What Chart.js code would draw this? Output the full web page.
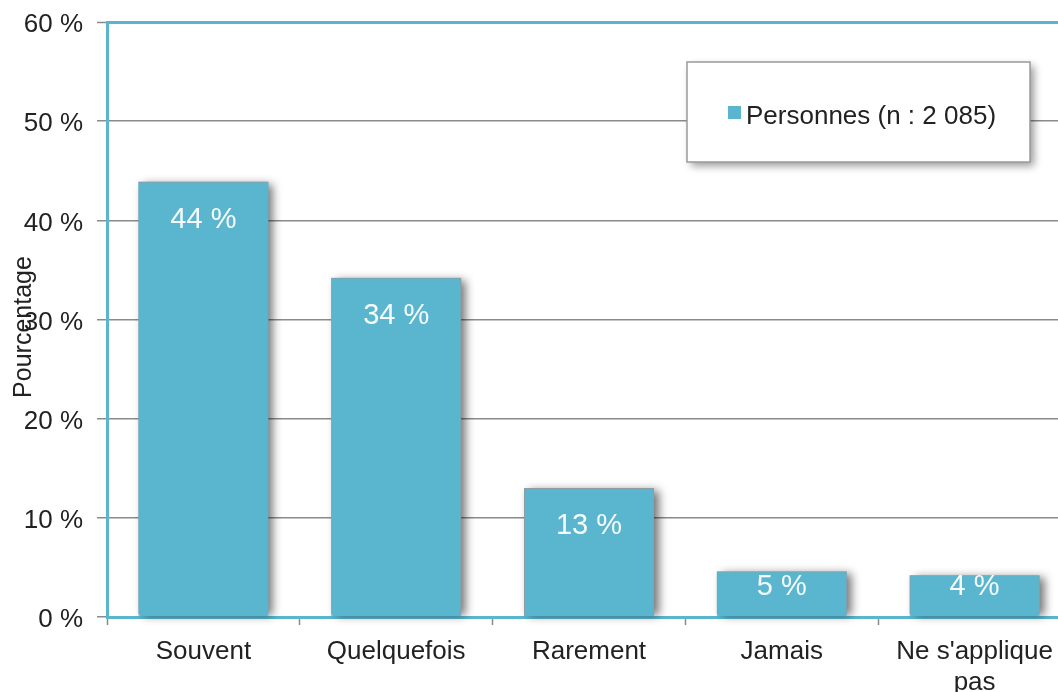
<!DOCTYPE html>
<html>
<head>
<meta charset="utf-8">
<script src="https://cdn.jsdelivr.net/npm/chart.js@4/dist/chart.umd.min.js"></script>
<style>
  html, body { margin: 0; padding: 0; background: #fff; overflow: hidden; }
  #wrap { width: 1090px; height: 692px; }
</style>
</head>
<body>
<div id="wrap"><canvas id="c" width="1090" height="692"></canvas></div>
<script>
const categories = ["Souvent", "Quelquefois", "Rarement", "Jamais", ["Ne s'applique", "pas"]];
const values = [43.9, 34.2, 13.0, 4.6, 4.2];
const valueLabels = ["44 %", "34 %", "13 %", "5 %", "4 %"];
const seriesName = "Personnes (n : 2 085)";
const yTicks = [0, 10, 20, 30, 40, 50, 60];
const yTitle = "Pourcentage";

const BLUE = '#5ab6ce';
const GRID = '#8a8a8a';
const FONT = "'Liberation Sans', Arial, Helvetica, sans-serif";

const shadowPlugin = {
  id: 'barShadow',
  beforeDatasetsDraw(chart) {
    const ctx = chart.ctx;
    const meta = chart.getDatasetMeta(0);
    ctx.save();
    ctx.shadowColor = 'rgba(0,0,0,0.55)';
    ctx.shadowBlur = 9;
    ctx.shadowOffsetX = 5;
    ctx.shadowOffsetY = 2;
    ctx.fillStyle = BLUE;
    meta.data.forEach(bar => {
      const w = bar.width;
      ctx.fillRect(bar.x - w / 2, bar.y, w, bar.base - bar.y - 2);
    });
    ctx.restore();
  },
  afterDatasetsDraw(chart) {
    const ctx = chart.ctx;
    const meta = chart.getDatasetMeta(0);
    ctx.save();
    ctx.fillStyle = 'rgba(255,255,255,0.95)';
    ctx.font = "29px " + FONT;
    ctx.textAlign = 'center';
    ctx.textBaseline = 'middle';
    meta.data.forEach((bar, i) => {
      const y = Math.min(bar.y + 38, bar.base - 29);
      ctx.fillText(valueLabels[i], bar.x, y);
    });
    ctx.restore();
  }
};

const legendPlugin = {
  id: 'boxLegend',
  afterDraw(chart) {
    const ctx = chart.ctx;
    const x = 687, y = 62, w = 343, h = 100;
    ctx.save();
    ctx.shadowColor = 'rgba(0,0,0,0.4)';
    ctx.shadowBlur = 8;
    ctx.shadowOffsetX = 4;
    ctx.shadowOffsetY = 4;
    ctx.fillStyle = '#fff';
    ctx.fillRect(x, y, w, h);
    ctx.restore();
    ctx.save();
    ctx.strokeStyle = '#9a9a9a';
    ctx.lineWidth = 1.5;
    ctx.strokeRect(x, y, w, h);
    ctx.fillStyle = BLUE;
    ctx.fillRect(728, 106, 13, 13);
    ctx.fillStyle = '#222';
    ctx.font = "26px " + FONT;
    ctx.textAlign = 'left';
    ctx.textBaseline = 'middle';
    ctx.fillText(chart.data.datasets[0].label, 746, 117);
    ctx.restore();

    // y-axis title
    ctx.save();
    ctx.translate(24, 327);
    ctx.rotate(-Math.PI / 2);
    ctx.fillStyle = '#222';
    ctx.font = "25px " + FONT;
    ctx.textAlign = 'center';
    ctx.textBaseline = 'middle';
    ctx.fillText(yTitle, 0, 0);
    ctx.restore();
  }
};

new Chart(document.getElementById('c'), {
  type: 'bar',
  data: {
    labels: categories,
    datasets: [{
      label: seriesName,
      data: values,
      backgroundColor: BLUE,
      borderColor: '#8e9ea3',
      borderWidth: 1,
      barPercentage: 0.674,
      categoryPercentage: 1.0
    }]
  },
  options: {
    responsive: false,
    animation: false,
    layout: { padding: { top: 22, right: 19, left: 0, bottom: 0 } },
    plugins: { legend: { display: false }, tooltip: { enabled: false } },
    scales: {
      x: {
        offset: true,
        afterFit(scale) { scale.height = 75; },
        grid: {
          offset: true,
          drawOnChartArea: false,
          drawTicks: true,
          tickLength: 8,
          tickColor: GRID,
          tickWidth: 1.5
        },
        border: { display: true, color: BLUE, width: 3 },
        ticks: {
          color: '#222',
          font: { family: FONT, size: 26 },
          padding: 11,
          maxRotation: 0,
          autoSkip: false
        }
      },
      y: {
        min: 0,
        max: 60,
        afterFit(scale) { scale.width = 107; scale.paddingTop = 0; scale.paddingBottom = 0; },
        afterBuildTicks(scale) { scale.ticks = yTicks.map(v => ({ value: v })); },
        grid: {
          color: ctx => (ctx.tick && (ctx.tick.value === 60 || ctx.tick.value === 0)) ? BLUE : GRID,
          lineWidth: ctx => (ctx.tick && ctx.tick.value === 60) ? 3 : 1.5,
          drawTicks: true,
          tickLength: 10,
          tickColor: GRID,
          tickWidth: 1.5
        },
        border: { display: true, color: BLUE, width: 3 },
        title: { display: false },
        ticks: {
          color: '#222',
          font: { family: FONT, size: 26 },
          padding: 14,
          labelOffset: 3,
          callback: v => v + ' %'
        }
      }
    }
  },
  plugins: [shadowPlugin, legendPlugin]
});
</script>
</body>
</html>
